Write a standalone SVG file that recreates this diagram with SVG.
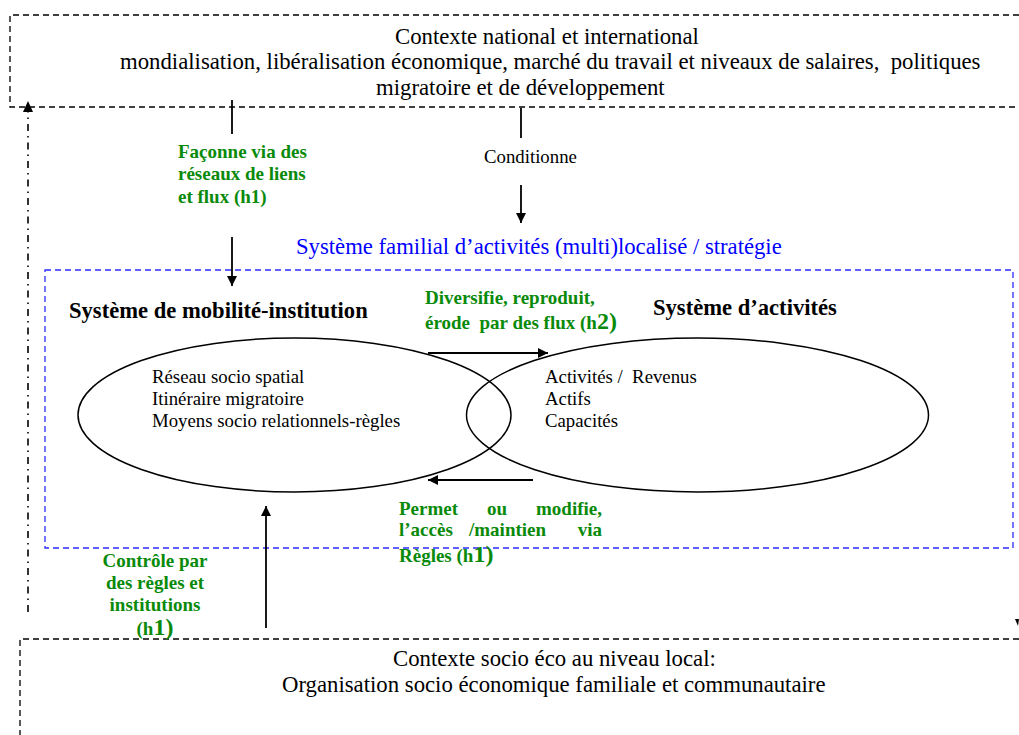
<svg xmlns="http://www.w3.org/2000/svg" width="1019" height="735" viewBox="0 0 1019 735">
<style>
text{font-family:"Liberation Serif","Times New Roman",serif;fill:#000;white-space:pre}
.h{font-size:22.75px}
.hb{font-size:22.6px;font-weight:bold}
.b{font-size:18.8px}
.g{font-size:19px;font-weight:bold;fill:#0a8a0a}
.blue{fill:#0000ff;font-size:22.7px}
.big{font-size:24px}
.dash{fill:none;stroke:#000;stroke-width:1.3;stroke-dasharray:6 4}
.bdash{fill:none;stroke:#2b2bff;stroke-width:1.3;stroke-dasharray:6 4}
.ln{stroke:#000;stroke-width:1.8;fill:none}
.ell{fill:none;stroke:#000;stroke-width:1.5}
</style>
<defs>
<marker id="ah" viewBox="0 0 10 10" refX="10" refY="5" markerWidth="10" markerHeight="10" markerUnits="userSpaceOnUse" orient="auto">
<path d="M0,0 L10,5 L0,10 z" fill="#000"/>
</marker>
</defs>
<rect width="1019" height="735" fill="#fff"/>

<g id="contexte-national">
<path class="dash" d="M1019,15 H10 V107 H1019"/>
<text class="h" x="395" y="44">Contexte national et international</text>
<text class="h" x="120" y="69">mondialisation, libéralisation économique, marché du travail et niveaux de salaires,  politiques</text>
<text class="h" x="376" y="95">migratoire et de développement</text>
</g>

<g id="systeme-familial">
<rect class="bdash" x="45" y="270" width="968" height="278"/>
<text class="blue" x="296" y="254">Système familial d’activités (multi)localisé / stratégie</text>
</g>

<g id="mobilite-institution">
<ellipse class="ell" cx="294.5" cy="415" rx="216.5" ry="77"/>
<text class="hb" x="69" y="318">Système de mobilité-institution</text>
<text class="b" x="152" y="383">Réseau socio spatial</text>
<text class="b" x="152" y="405">Itinéraire migratoire</text>
<text class="b" x="152" y="427">Moyens socio relationnels-règles</text>
</g>

<g id="systeme-activites">
<ellipse class="ell" cx="697.5" cy="415" rx="231" ry="77"/>
<text class="hb" x="653" y="315">Système d’activités</text>
<text class="b" x="545" y="383">Activités /  Revenus</text>
<text class="b" x="545" y="405">Actifs</text>
<text class="b" x="545" y="427">Capacités</text>
</g>

<g id="contexte-local">
<path class="dash" d="M1019,639 H20 V735"/>
<text class="h" x="393" y="666">Contexte socio éco au niveau local:</text>
<text class="h" x="282" y="692">Organisation socio économique familiale et communautaire</text>
</g>

<g id="connectors">
<line class="ln" x1="232" y1="100" x2="232" y2="134"/>
<line class="ln" x1="232" y1="237" x2="232" y2="286" marker-end="url(#ah)"/>
<line class="ln" x1="521" y1="108" x2="521" y2="138"/>
<line class="ln" x1="521" y1="185" x2="521" y2="223" marker-end="url(#ah)"/>
<line class="ln" x1="428" y1="353" x2="548" y2="353" marker-end="url(#ah)"/>
<line class="ln" x1="533" y1="480" x2="428" y2="480" marker-end="url(#ah)"/>
<line class="ln" x1="266" y1="628" x2="266" y2="506" marker-end="url(#ah)"/>
<line stroke="#000" stroke-width="1.6" stroke-dasharray="7 5 1.5 5" x1="28" y1="612" x2="28" y2="108"/>
<path d="M23,112 L28,101 L33,112 z" fill="#000"/>
<path d="M1015,619 L1019,619 L1018,626 z" fill="#000"/>
</g>

<g id="labels">
<text class="b" x="484" y="163">Conditionne</text>
<text class="g" x="178" y="158">Façonne via des</text>
<text class="g" x="178" y="180">réseaux de liens</text>
<text class="g" x="178" y="203">et flux (h1)</text>
<text class="g" x="425" y="304">Diversifie, reproduit,</text>
<text class="g" x="425" y="329">érode  par des flux (h<tspan class="big">2)</tspan></text>
<text class="g" x="399" y="515">Permet</text>
<text class="g" x="497" y="515" text-anchor="middle">ou</text>
<text class="g" x="602" y="515" text-anchor="end">modifie,</text>
<text class="g" x="399" y="536">l’accès</text>
<text class="g" x="469" y="536">/maintien</text>
<text class="g" x="602" y="536" text-anchor="end">via</text>
<text class="g" x="399" y="562">Règles (h<tspan class="big">1)</tspan></text>
<text class="g" x="155" y="567" text-anchor="middle">Contrôle par</text>
<text class="g" x="155" y="589" text-anchor="middle">des règles et</text>
<text class="g" x="155" y="611" text-anchor="middle">institutions</text>
<text class="g" x="155" y="635" text-anchor="middle">(h<tspan class="big">1)</tspan></text>
</g>
</svg>
